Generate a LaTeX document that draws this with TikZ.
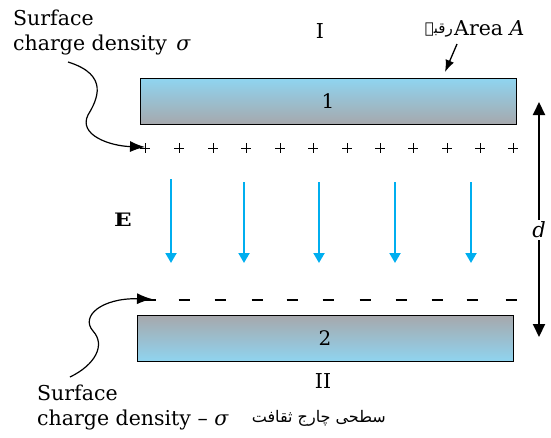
\documentclass[tikz,border=0pt]{standalone}
\usepackage{fontspec}
\setmainfont{DejaVu Serif}
\usetikzlibrary{arrows.meta}
\TeXXeTstate=1
\newfontfamily\arabicfont[Script=Arabic]{DejaVu Sans}
\definecolor{platetop}{HTML}{8FD4F0}
\definecolor{platebot}{HTML}{A6A8AC}
\definecolor{fieldblue}{HTML}{00AEEF}
\tikzset{
  plate/.style={draw=black, line width=1pt, minimum width=376pt, minimum height=46pt, inner sep=0pt, font=\fontsize{20}{24}\selectfont},
  lbl/.style={inner sep=0pt, font=\fontsize{20.5}{25}\selectfont},
  field/.style={fieldblue, line width=2pt, -{Triangle[width=11pt,length=10pt]}},
  darrow/.style={black, line width=2pt, -{Triangle[width=12pt,length=13pt]}},
  curvearrow/.style={black, line width=1.2pt, -{Latex[length=15pt,width=11pt]}},
  plusmark/.style={black, line width=1pt},
  minusmark/.style={black, line width=2pt},
}
\begin{document}
\begin{tikzpicture}[x=1pt,y=-1pt]
\useasboundingbox (0,0) rectangle (551,437);
% plates
\node[plate, top color=platetop, bottom color=platebot] (p1) at (328,101.5) {1};
\node[plate, top color=platebot, bottom color=platetop] (p2) at (325,338.5) {2};
% plus charges
\foreach \x in {145,179,213,246,280,313,347,380,413,447,480,513}
  \draw[plusmark] (\x-5,148) -- (\x+5,148) (\x,143) -- (\x,153);
% minus charges
\foreach \x in {150,184,220,257,292,328,365,401,437,472,511}
  \draw[minusmark] (\x-5.5,300) -- (\x+5.5,300);
% field lines
\foreach \x/\t in {171/179,244/182,319/182,395/182,471/182}{
  \coordinate (fs\x) at (\x,\t);
  \coordinate (fe\x) at (\x,263);
  \draw[field] (fs\x) -- (fe\x);
}
\node[inner sep=0pt, font=\fontsize{18.5}{22}\selectfont\bfseries] (E) at (123,220) {\scalebox{1.25}[1]{E}};
% separation d
\node[fill=white, inner sep=2pt, font=\fontsize{21}{25}\selectfont\itshape] (d) at (539,230) {d};
\coordinate (dtop) at (539,102);
\coordinate (dbot) at (539,337);
\draw[darrow] (d) -- (dtop);
\draw[darrow] (d) -- (dbot);
% labels
\node[lbl, anchor=base] (I) at (320,38) {I};
\node[lbl, anchor=base] (II) at (323,388) {II};
\node[lbl, anchor=base west] (s1) at (13,25) {Surface};
\node[lbl, anchor=base west] (c1) at (13,50) {charge density\hspace{0.45em}\textit{σ}};
\node[lbl, anchor=base west] (s2) at (37,400) {Surface};
\node[lbl, anchor=base west] (c2) at (37,425) {charge density – \textit{σ}};
\node[inner sep=0pt, anchor=base east, font=\fontsize{16}{20}\arabicfont] (u2) at (386,422) {\beginR سطحی چارج ثقافت\endR};
\node[lbl, anchor=base west] (area) at (454,35) {Area \textit{A}};
\node[inner sep=0pt, anchor=base east, font=\fontsize{15}{18}\arabicfont] (u1) at (453,33) {\beginR رقبہ\endR};
% arrows
\coordinate (a0) at (457,44);
\coordinate (a1) at (445,72);
\draw[black, line width=1.3pt, -{Latex[length=12pt,width=9pt]}] (a0) -- (a1);
\coordinate (t0) at (68,62);
\coordinate (t1) at (145,147);
\draw[curvearrow] (t0) .. controls (110,75) and (97,100) .. (88,115) .. controls (78,135) and (110,146) .. (t1);
\coordinate (b0) at (70,377);
\coordinate (b1) at (152,299);
\draw[curvearrow] (b0) .. controls (95,365) and (106,345) .. (93,331) .. controls (80,316) and (102,298) .. (b1);
\end{tikzpicture}
\end{document}
